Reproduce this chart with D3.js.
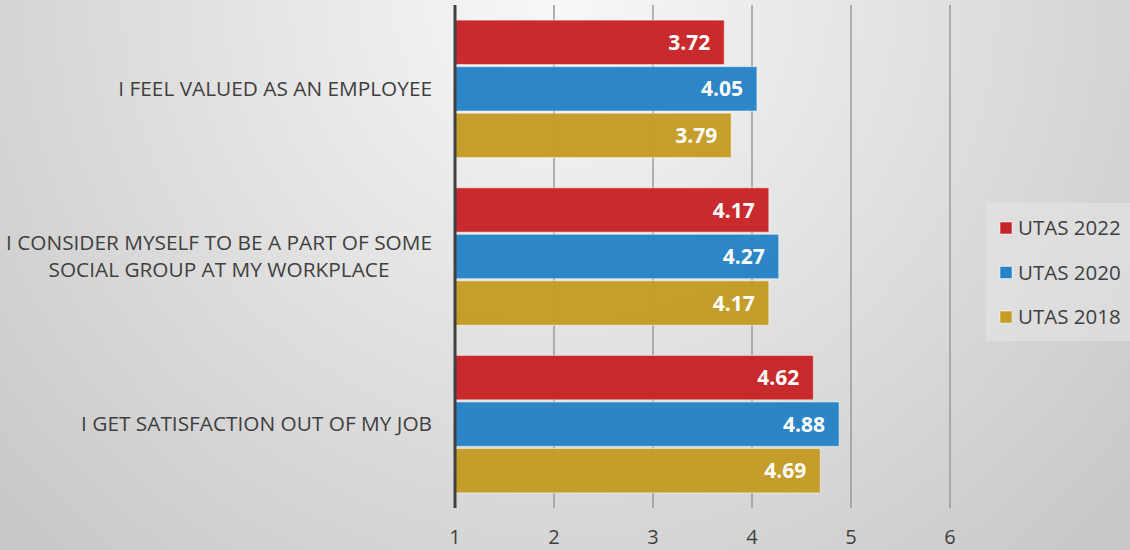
<!DOCTYPE html>
<html>
<head>
  <script src="https://d3js.org/d3.v7.min.js"></script>
  <style>
    body { margin: 0; }
    #chart { width: 1130px; height: 550px; position: relative; }
    .catLabel, .tickLabel, .legendLabel { font-family: "Open Sans", Lato, sans-serif; fill: #404040; }
    .valLabel { font-family: "Open Sans", Lato, sans-serif; font-weight: bold; fill: #fff; }
  </style>
</head>
<body>
  <div id="chart"></div>
  <script>
    // data
    const categories = [
      "I FEEL VALUED AS AN EMPLOYEE",
      "I CONSIDER MYSELF TO BE A PART OF SOME|SOCIAL GROUP AT MY WORKPLACE",
      "I GET SATISFACTION OUT OF MY JOB"
    ];
    const seriesNames = ["UTAS 2022", "UTAS 2020", "UTAS 2018"];
    const utas2022 = [3.72, 4.17, 4.62];
    const utas2020 = [4.05, 4.27, 4.88];
    const utas2018 = [3.79, 4.17, 4.69];
    const xTicks = [1, 2, 3, 4, 5, 6];
    const colors = ["#C62326", "#2582C6", "#C49B25"];

    const width = 1130, height = 550;
    const margin = {top: 5, left: 455, right: 180, bottom: 42};

    const svg = d3.select("#chart").append("svg")
      .attr("width", width).attr("height", height);

    // background gradient
    const defs = svg.append("defs");
    const grad = defs.append("radialGradient")
      .attr("id", "bg").attr("gradientUnits", "userSpaceOnUse")
      .attr("cx", 560).attr("cy", 0).attr("r", 760);
    grad.append("stop").attr("offset", "0%").attr("stop-color", "#F8F8F8");
    grad.append("stop").attr("offset", "100%").attr("stop-color", "#C8C8C8");
    svg.append("rect").attr("width", width).attr("height", height).attr("fill", "url(#bg)");

    const series = [utas2022, utas2020, utas2018];

    const xScale = d3.scaleLinear()
      .domain([1, 6])
      .range([margin.left, 950]);

    const yScale = d3.scaleBand()
      .domain(categories)
      .range([margin.top, height - margin.bottom])
      .paddingInner(0.18).paddingOuter(0.09);

    const inner = d3.scaleBand()
      .domain(seriesNames)
      .range([0, yScale.bandwidth()])
      .paddingInner(0.045);

    // gridlines
    svg.append("g").selectAll("line")
      .data(xTicks.slice(1))
      .enter().append("line")
        .attr("x1", d => xScale(d)).attr("x2", d => xScale(d))
        .attr("y1", margin.top).attr("y2", height - margin.bottom)
        .attr("stroke", "#9A9A9A").attr("stroke-width", 1.5);

    // bars
    seriesNames.forEach(function(s, i) {
      svg.append("g").selectAll("rect")
        .data(series[i])
        .enter().append("rect")
          .attr("x", xScale(1))
          .attr("y", (d, j) => yScale(categories[j]) + inner(s))
          .attr("width", d => xScale(d) - xScale(1))
          .attr("height", inner.bandwidth())
          .attr("fill", colors[i])
          .attr("fill-opacity", 0.97)
          .attr("stroke", "rgba(255,255,255,0.45)")
          .attr("stroke-width", 1.2);

      svg.append("g").selectAll("text")
        .data(series[i])
        .enter().append("text")
          .attr("class", "valLabel")
          .attr("x", d => xScale(d) - 14)
          .attr("y", (d, j) => yScale(categories[j]) + inner(s) + inner.bandwidth() / 2)
          .attr("dy", "0.36em")
          .attr("text-anchor", "end")
          .attr("font-size", 21)
          .text(d => d.toFixed(2));
    });

    // axis line
    svg.append("line")
      .attr("x1", xScale(1)).attr("x2", xScale(1))
      .attr("y1", margin.top).attr("y2", height - margin.bottom)
      .attr("stroke", "#404040").attr("stroke-width", 3);

    // tick labels
    svg.append("g").selectAll("text")
      .data(xTicks)
      .enter().append("text")
        .attr("class", "tickLabel")
        .attr("x", d => xScale(d))
        .attr("y", 544)
        .attr("text-anchor", "middle")
        .attr("font-size", 20)
        .text(d => d);

    // category labels
    categories.forEach(function(c) {
      const lines = c.split("|");
      const cy = yScale(c) + yScale.bandwidth() / 2;
      const t = svg.append("text")
        .attr("class", "catLabel")
        .attr("font-size", 20.8);
      lines.forEach(function(l, k) {
        t.append("tspan")
          .attr("y", cy + (k - (lines.length - 1) / 2) * 27)
          .attr("dy", "0.35em")
          .text(l);
      });
      let maxW = 0;
      t.selectAll("tspan").each(function() { maxW = Math.max(maxW, this.getComputedTextLength()); });
      const mid = 432 - maxW / 2;
      t.attr("text-anchor", "middle").selectAll("tspan").attr("x", mid);
    });

    // legend
    const legend = svg.append("g");
    legend.append("rect")
      .attr("x", 986).attr("y", 203).attr("width", 150).attr("height", 138)
      .attr("fill", "#E4E4E4").attr("fill-opacity", 0.6);
    seriesNames.forEach(function(s, i) {
      const ly = 228 + i * 44.5;
      legend.append("rect")
        .attr("x", 1000).attr("y", ly - 6).attr("width", 12).attr("height", 12)
        .attr("fill", colors[i]).attr("stroke", "rgba(255,255,255,0.5)");
      legend.append("text")
        .attr("class", "legendLabel")
        .attr("x", 1018).attr("y", ly)
        .attr("dy", "0.35em")
        .attr("font-size", 20.5)
        .text(s);
    });
  </script>
</body>
</html>
